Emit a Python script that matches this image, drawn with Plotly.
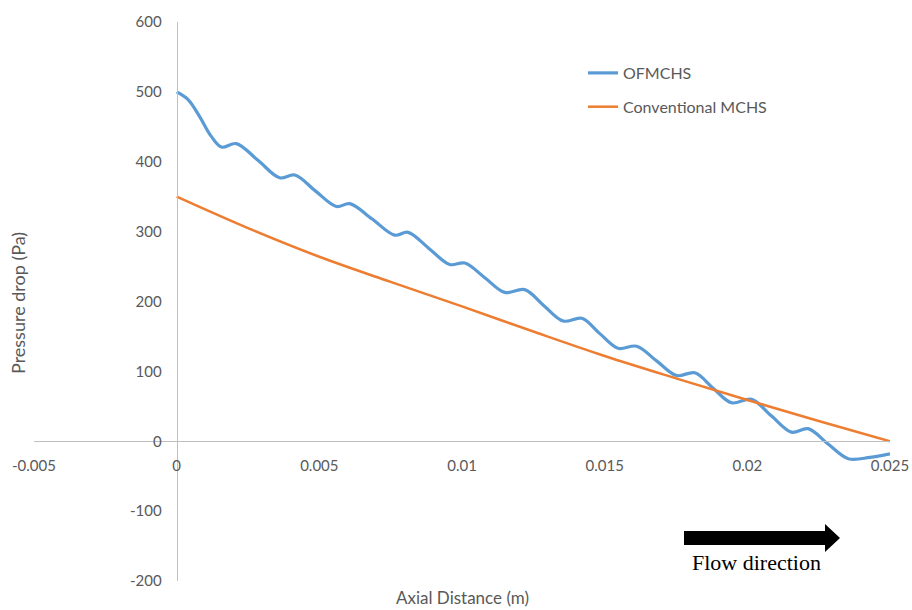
import plotly.graph_objects as go

# ---- data ----
ofm_x = [0, 0.0004, 0.0008, 0.0012, 0.00157, 0.00209, 0.00285, 0.00361, 0.00414, 0.00487, 0.0056, 0.00607,
         0.00685, 0.00764, 0.00811, 0.00884, 0.00957, 0.0101, 0.0108, 0.0115, 0.0122, 0.01287,
         0.01355, 0.0142, 0.01483, 0.01547, 0.01612, 0.01682, 0.01752, 0.01816, 0.0188, 0.01945,
         0.02015, 0.02085, 0.02155, 0.02213, 0.02283, 0.02354, 0.0243, 0.025]
ofm_y = [500, 489, 465, 437, 421, 426, 402, 377, 381, 358, 336, 340,
         318, 295, 299, 276, 253, 255, 234, 213, 217, 194,
         172, 176, 154, 133, 136, 115, 94, 98, 76, 55,
         60, 36, 13, 18, -4, -25, -23, -18]

conv_x = [0, 0.0025, 0.005, 0.0075, 0.01, 0.0125, 0.015, 0.0175, 0.02, 0.0225, 0.025]
conv_y = [350, 305, 264, 228, 193, 157, 122, 90, 59, 29, 0]

x_ticks = [-0.005, 0, 0.005, 0.01, 0.015, 0.02, 0.025]
x_tick_labels = ["-0.005", "0", "0.005", "0.01", "0.015", "0.02", "0.025"]
y_ticks = [-200, -100, 0, 100, 200, 300, 400, 500, 600]
y_tick_labels = ["-200", "-100", "0", "100", "200", "300", "400", "500", "600"]

x_range = [-0.005, 0.025]
y_range = [-200, 600]

GRAY = "#595959"
AXIS = "#bfbfbf"
FONT = "Lato, Carlito, Calibri, sans-serif"

ML, MR, MT, MB = 34, 22, 22, 29
W, H = 912, 610
PW, PH = W - ML - MR, H - MT - MB


def px(xp):
    return (xp - ML) / PW


def py(yp):
    return 1 - (yp - MT) / PH


fig = go.Figure()
fig.add_trace(go.Scatter(x=ofm_x, y=ofm_y, mode="lines", name="OFMCHS", legendgroup="a",
                         line=dict(color="#5B9BD5", width=3.2, shape="spline", smoothing=1.0)))
fig.add_trace(go.Scatter(x=conv_x, y=conv_y, mode="lines", name="Conventional MCHS", legendgroup="b",
                         line=dict(color="#ED7D31", width=2.5, shape="spline", smoothing=1.0)))

# axis crossing positions in paper coordinates
x_cross = (0 - x_range[0]) / (x_range[1] - x_range[0])
y_cross = (0 - y_range[0]) / (y_range[1] - y_range[0])

fig.update_layout(
    width=W, height=H,
    margin=dict(l=ML, r=MR, t=MT, b=MB, autoexpand=False),
    paper_bgcolor="white", plot_bgcolor="white",
    font=dict(family=FONT, size=15, color=GRAY),
    showlegend=True,
    legend=dict(x=px(583), y=py(56), xanchor="left", yanchor="top",
                bgcolor="rgba(0,0,0,0)", font=dict(size=16, color=GRAY),
                tracegroupgap=10),
    xaxis=dict(range=x_range, tickvals=x_ticks, ticktext=x_tick_labels,
               showgrid=False, zeroline=False, showline=True, linecolor=AXIS, linewidth=1,
               anchor="free", position=y_cross, ticks="", ticklabelstandoff=11,
               automargin=False, tickfont=dict(size=15, color=GRAY)),
    yaxis=dict(range=y_range, tickvals=y_ticks, ticktext=y_tick_labels,
               showgrid=False, zeroline=False, showline=True, linecolor=AXIS, linewidth=1,
               anchor="free", position=x_cross, ticks="", ticklabelstandoff=12,
               automargin=False, tickfont=dict(size=15, color=GRAY)),
    annotations=[
        dict(text="Pressure drop (Pa)", xref="paper", yref="paper",
             x=px(18), y=py(303), xanchor="center", yanchor="middle",
             showarrow=False, textangle=-90,
             font=dict(size=18, color=GRAY, family=FONT)),
        dict(text="Axial Distance (m)", xref="paper", yref="paper",
             x=px(462), y=py(597), xanchor="center", yanchor="middle", showarrow=False,
             font=dict(size=17, color=GRAY, family=FONT)),
        dict(text="Flow direction", xref="paper", yref="paper",
             x=px(756), y=py(562), xanchor="center", yanchor="middle", showarrow=False,
             font=dict(size=22, color="black", family="Liberation Serif, Times New Roman, serif")),
    ],
)

# Flow direction arrow (paper coordinates)
path = (f"M {px(684)},{py(531)} L {px(825)},{py(531)} L {px(825)},{py(524)} "
        f"L {px(840)},{py(538)} L {px(825)},{py(552)} L {px(825)},{py(545)} "
        f"L {px(684)},{py(545)} Z")
fig.add_shape(type="path", path=path, xref="paper", yref="paper",
              fillcolor="black", line=dict(color="black", width=0))

fig.write_html("out.html")
